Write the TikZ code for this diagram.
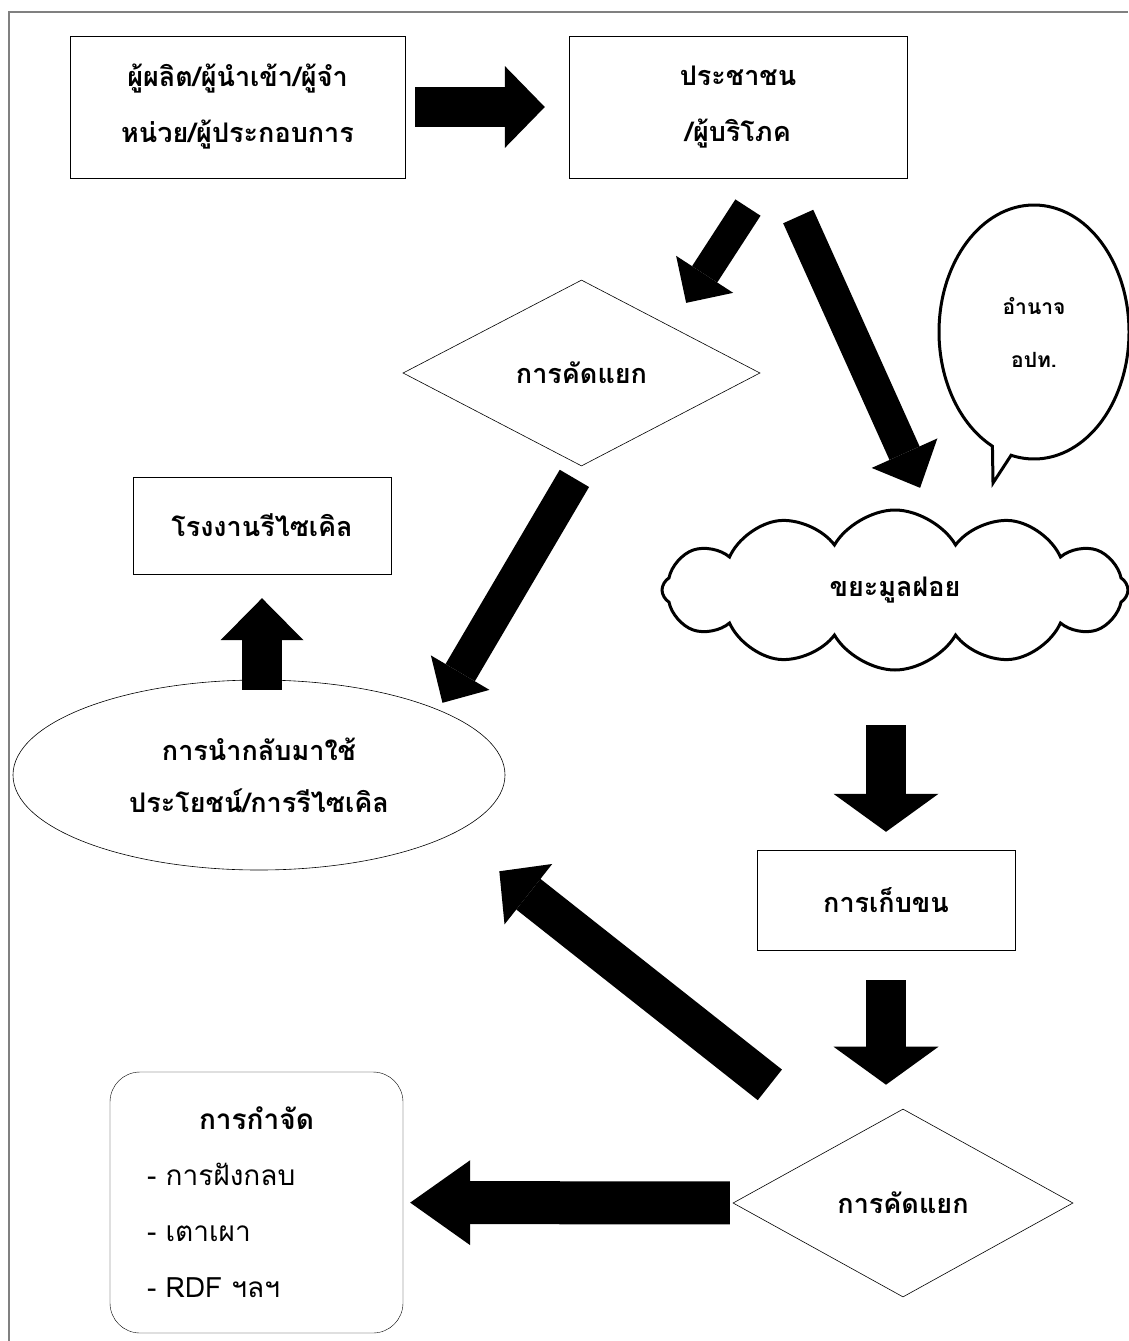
\documentclass[tikz,border=0pt]{standalone}
\usepackage{fontspec}
\setmainfont[Script=Thai]{Loma}
\usetikzlibrary{arrows.meta,positioning,shapes.geometric,shapes.symbols,shapes.callouts,calc}

\begin{document}
\begin{tikzpicture}[
  x=1pt, y=-1pt,
  box/.style={draw, inner sep=0pt, align=center, font=\fontsize{27pt}{56pt}\selectfont\bfseries},
  decision/.style={draw, diamond, aspect=2, inner sep=0pt, line width=0.6pt, font=\fontsize{27pt}{56pt}\selectfont\bfseries},
  fat/.style args={#1/#2/#3}{line width=#1, -{Triangle[width=#2, length=#3, line width=0pt]}},
]

\useasboundingbox (0,0) rectangle (1128,1341);
\draw[gray, line width=2pt] (8.5,1341) -- (8.5,11.5) -- (1128,11.5);

\node[box, minimum width=335pt, minimum height=142pt] (maker) at (237.5,107) {ผู้ผลิต/ผู้นำเข้า/ผู้จำ\\หน่วย/ผู้ประกอบการ};
\node[box, minimum width=338pt, minimum height=142pt] (consumer) at (738,107) {ประชาชน\\/ผู้บริโภค};
\node[decision, minimum width=357pt, minimum height=186pt] (sortA) at (581.5,373) {การคัดแยก};
\node[ellipse callout, draw, line width=3pt, minimum width=190pt, minimum height=254pt, inner sep=0pt,
  callout absolute pointer={(993,483)}, callout pointer arc=12, align=center,
  font=\fontsize{21pt}{53pt}\selectfont\bfseries] (power) at (1034,332) {อำนาจ\\อปท.};
\node[cloud, draw, line width=3pt, cloud puffs=12, cloud puff arc=120, aspect=2.9, minimum width=466pt, minimum height=160pt, inner sep=0pt,
  font=\fontsize{27pt}{56pt}\selectfont\bfseries] (waste) at (895,590) {ขยะมูลฝอย};
\node[box, minimum width=258pt, minimum height=97pt] (factory) at (262,525.5) {โรงงานรีไซเคิล};
\node[draw, ellipse, line width=0.6pt, minimum width=492pt, minimum height=190pt, inner sep=0pt, align=center,
  font=\fontsize{27pt}{52pt}\selectfont\bfseries] (reuse) at (259,775) {การนำกลับมาใช้\\ประโยชน์/การรีไซเคิล};
\node[box, minimum width=258pt, minimum height=100pt] (collect) at (886,900) {การเก็บขน};
\node[decision, minimum width=340pt, minimum height=188pt] (sortB) at (903,1203) {การคัดแยก};
\node[draw, rounded corners=30pt, minimum width=293pt, minimum height=261pt, inner sep=0pt, text width=219pt, align=left,
  font=\fontsize{28pt}{56pt}\selectfont] (dispose) at (256.5,1202.5)
  {\makebox[219pt][c]{\bfseries การกำจัด}\\- การฝังกลบ\\- เตาเผา\\- RDF ฯลฯ};

\draw[fat=40pt/82pt/40pt, shorten <=10pt, shorten >=24pt] (maker) -- (consumer);
\draw[fat=30pt/68pt/34pt, shorten <=35pt, shorten >=28pt] ([xshift=29pt]consumer.south) -- (sortA.north east);
\draw[fat=33pt/72pt/38pt, shorten <=42pt, shorten >=112pt] ([xshift=43pt]consumer.south) -- ([xshift=71pt]waste.center);
\draw[fat=34pt/68pt/35pt, shorten <=14pt, shorten >=8pt] (sortA.south) -- (reuse.20.5);
\draw[fat=40pt/83pt/42pt, shorten <=-10pt, shorten >=24pt] (factory.south |- reuse.north) -- (factory.south);
\draw[fat=40pt/105pt/38pt, shorten <=135pt, shorten >=18pt] (collect.north |- waste.center) -- (collect.north);
\draw[fat=40pt/105pt/38pt, shorten <=30pt, shorten >=24pt] (collect.south) -- (collect.south |- sortB.north);
\draw[fat=43pt/85pt/60pt, shorten <=3pt, shorten >=7pt] (sortB) -- (dispose);
\draw[fat=39pt/77pt/37pt, shorten >=60pt] ([shift={(-48,-71)}]sortB.north west) -- (reuse.-17.5);

\end{tikzpicture}
\end{document}
